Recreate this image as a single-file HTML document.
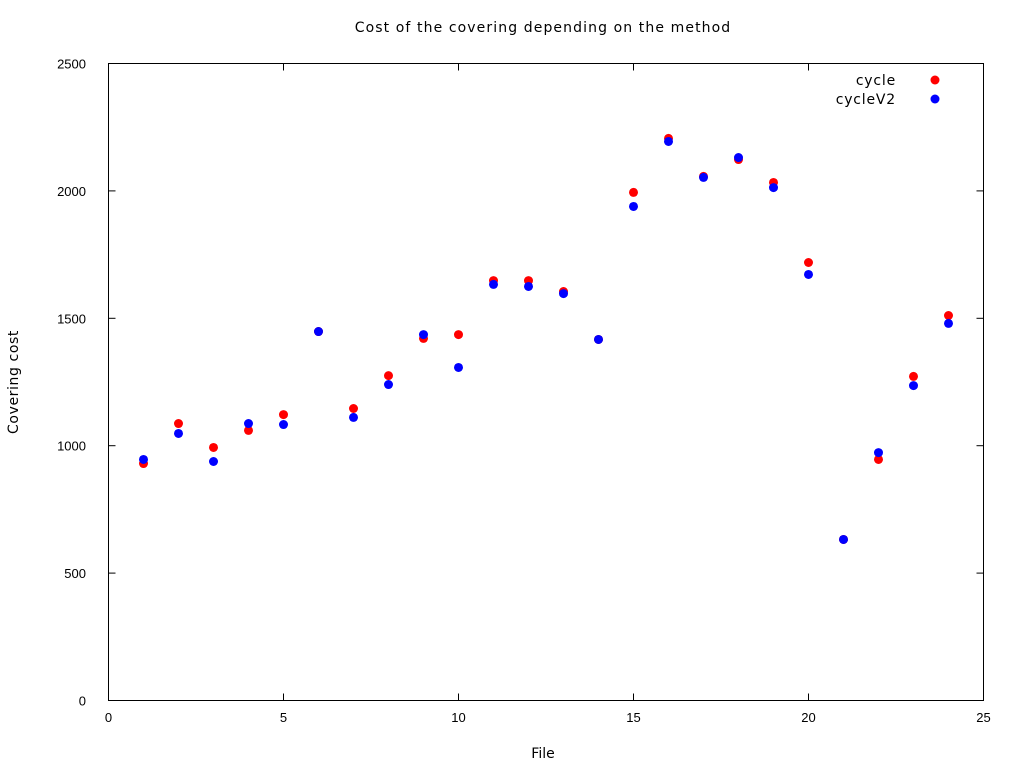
<!DOCTYPE html>
<html><head><meta charset="utf-8"><style>
body{margin:0;background:#fff;}
svg{display:block;font-family:"DejaVu Sans","Liberation Sans",sans-serif;font-size:14px;}
.tick{font-family:"Liberation Sans",sans-serif;font-size:13px;}
</style></head><body>
<svg id="chart" width="1024" height="768" viewBox="0 0 1024 768">
<rect x="0" y="0" width="1024" height="768" fill="#fff"/>
<text x="543" y="32" text-anchor="middle" letter-spacing="1.1">Cost of the covering depending on the method</text>
<text x="543" y="758" text-anchor="middle">File</text>
<text transform="translate(18,382) rotate(-90)" text-anchor="middle" letter-spacing="0.6">Covering cost</text>
<rect x="108.5" y="63.5" width="875" height="637" fill="none" stroke="#000" stroke-width="1"/>
<g id="ticks"></g>
<g id="marks"></g>
<text x="896" y="85" text-anchor="end" letter-spacing="0.8">cycle</text>
<circle cx="935" cy="80" r="4.5" fill="#f00"/>
<text x="896" y="104" text-anchor="end" letter-spacing="0.8">cycleV2</text>
<circle cx="935" cy="99" r="4.5" fill="#00f"/>
</svg>
<script>
const files = [1,2,3,4,5,6,7,8,9,10,11,12,13,14,15,16,17,18,19,20,21,22,23,24];
const cycle = [930,1087,993,1060,1122,1448,1146,1275,1421,1436,1648,1648,1605,1417,1994,2206,2057,2123,2033,1719,632,946,1272,1511];
const cycleV2 = [946,1048,938,1087,1083,1448,1111,1240,1436,1307,1633,1625,1597,1417,1939,2194,2053,2131,2013,1672,632,973,1236,1480];
const xTicks = [0,5,10,15,20,25];
const yTicks = [0,500,1000,1500,2000,2500];
const NS = "http://www.w3.org/2000/svg";
const X0=108.5,X1=983.5,Y0=700.5,Y1=63.5;
function sx(v){return X0+(X1-X0)*v/25;}
function sy(v){return Y0-(Y0-Y1)*v/2500;}
const tg=document.getElementById('ticks');
function mk(tag,attrs,parent){const e=document.createElementNS(NS,tag);for(const k in attrs)e.setAttribute(k,attrs[k]);parent.appendChild(e);return e;}
xTicks.forEach(t=>{
  const x=sx(t);
  const l1=mk('line',{x1:x,x2:x,y1:Y0,y2:Y0-7,stroke:'#000'},tg);
  
  
  mk('line',{x1:x,x2:x,y1:Y1,y2:Y1+7,stroke:'#000'},tg);
  const tx=mk('text',{x:x,y:722,'text-anchor':'middle','class':'tick'},tg);tx.textContent=t;
  
  
});
yTicks.forEach(t=>{
  const y=sy(t);
  const l1=mk('line',{x1:X0,x2:X0+7,y1:y,y2:y,stroke:'#000'},tg);
  
  
  mk('line',{x1:X1,x2:X1-7,y1:y,y2:y,stroke:'#000'},tg);
  const tx=mk('text',{x:86,y:y+5,'text-anchor':'end','class':'tick'},tg);tx.textContent=t;
  
  
});
const mg=document.getElementById('marks');
files.forEach((f,i)=>{
  const c=mk('circle',{cx:sx(f),cy:sy(cycle[i]),r:4.5,fill:'#f00'},mg);
  
  
});
files.forEach((f,i)=>{
  const c=mk('circle',{cx:sx(f),cy:sy(cycleV2[i]),r:4.5,fill:'#00f'},mg);
  
  
});
</script>
</body></html>
